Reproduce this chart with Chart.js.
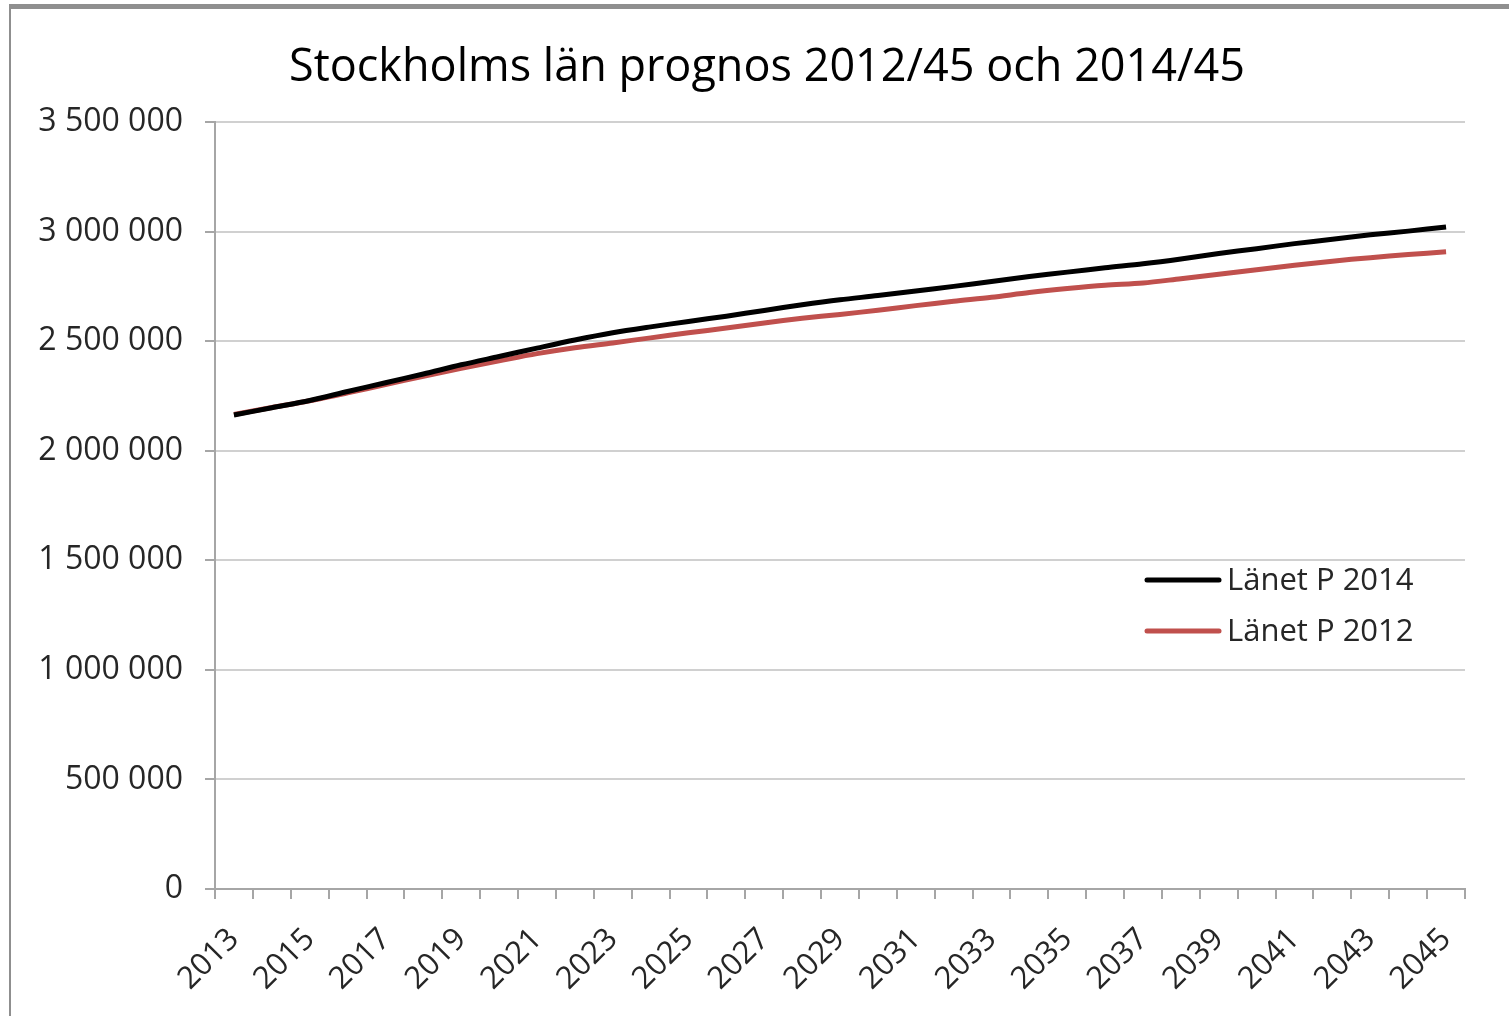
<!DOCTYPE html>
<html>
<head>
<meta charset="utf-8">
<script src="https://cdn.jsdelivr.net/npm/chart.js@4.4.0/dist/chart.umd.min.js"></script>
<style>
  html, body { margin: 0; padding: 0; background: #fff; }
  #wrap { position: relative; width: 1509px; height: 1016px; }
  #frame { position: absolute; left: 9px; top: 4px; right: 0; bottom: 0;
           border-top: 5px solid #8f8f8f; border-left: 2px solid #8f8f8f; pointer-events: none; }
</style>
</head>
<body>
<div id="wrap">
  <canvas id="lineChart" width="1509" height="1016"></canvas>
  <div id="frame"></div>
</div>
<script>
const years = [];
for (let y = 2013; y <= 2045; y++) years.push(String(y));

// Länet P 2014 (black)
const lanetP2014 = [
    2163000, 2196000, 2229000, 2270000, 2310000, 2350000, 2392000, 2430000, 2468000, 2505000,
    2538000, 2565000, 2590000, 2614000, 2640000, 2666000, 2689000, 2708000, 2729000, 2750000,
    2772000, 2795000, 2815000, 2835000, 2853000, 2875000, 2900000, 2922000, 2945000, 2965000,
    2985000, 3002000, 3021000
];
// Länet P 2012 (red)
const lanetP2012 = [
    2165000, 2197000, 2228000, 2264000, 2302000, 2340000, 2376000, 2410000, 2443000, 2470000,
    2492000, 2515000, 2538000, 2560000, 2583000, 2604000, 2622000, 2641000, 2662000, 2682000,
    2700000, 2722000, 2740000, 2755000, 2765000, 2785000, 2805000, 2826000, 2846000, 2865000,
    2881000, 2895000, 2908000
];

const FONT = '"Open Sans", "Liberation Sans", sans-serif';
const TEXT = '#262626';
const AXIS = '#a6a6a6';
const GRID = '#d0d0d0';

function fmt(v) {
    return String(v).replace(/\B(?=(\d{3})+(?!\d))/g, ' ');
}

// legend drawn inside the plot area, Excel style
const innerLegend = {
    id: 'innerLegend',
    afterDraw(chart) {
        const { ctx, chartArea } = chart;
        const x0 = chartArea.right - 318;
        const y0 = chartArea.top + 0.597 * (chartArea.bottom - chartArea.top);
        ctx.save();
        ctx.font = '31px ' + FONT;
        ctx.textBaseline = 'middle';
        chart.data.datasets.forEach((ds, i) => {
            const y = y0 + i * 51;
            ctx.strokeStyle = ds.borderColor;
            ctx.lineWidth = 5;
            ctx.lineCap = 'round';
            ctx.beginPath();
            ctx.moveTo(x0, y);
            ctx.lineTo(x0 + 72, y);
            ctx.stroke();
            ctx.fillStyle = TEXT;
            ctx.fillText(ds.label, x0 + 80, y + 1);
        });
        ctx.restore();
    }
};

const ctx = document.getElementById('lineChart').getContext('2d');
const myChart = new Chart(ctx, {
    type: 'line',
    data: {
        labels: years,
        datasets: [{
            label: 'Länet P 2014',
            data: lanetP2014,
            borderColor: '#000000',
            borderWidth: 5,
            pointRadius: 0,
            tension: 0.3
        }, {
            label: 'Länet P 2012',
            data: lanetP2012,
            borderColor: '#c0504d',
            borderWidth: 5,
            pointRadius: 0,
            tension: 0.3
        }]
    },
    options: {
        responsive: false,
        animation: false,
        layout: { padding: { left: 25, right: 0, top: 0, bottom: 0 } },
        plugins: {
            legend: { display: false },
            tooltip: { enabled: false },
            title: {
                display: true,
                text: 'Stockholms län prognos 2012/45 och 2014/45',
                color: '#000',
                font: { family: FONT, size: 45, weight: 'normal' },
                padding: { top: 41, bottom: 27 }
            }
        },
        scales: {
            x: {
                offset: true,
                grid: {
                    offset: true,
                    drawOnChartArea: false,
                    drawTicks: true,
                    tickLength: 10,
                    color: AXIS,
                    lineWidth: 2
                },
                border: { display: true, color: AXIS, width: 2 },
                ticks: {
                    autoSkip: false,
                    maxRotation: 45,
                    minRotation: 45,
                    color: TEXT,
                    font: { family: FONT, size: 31 },
                    padding: 22,
                    callback: function (val, idx) {
                        return idx % 2 === 0 ? this.getLabelForValue(val) : '';
                    }
                },
                afterFit: (scale) => { scale.height = 127; }
            },
            y: {
                min: 0,
                max: 3500000,
                grid: {
                    color: GRID,
                    lineWidth: 2,
                    tickLength: 10,
                    tickColor: AXIS
                },
                border: { display: true, color: AXIS, width: 2 },
                ticks: {
                    stepSize: 500000,
                    color: TEXT,
                    font: { family: FONT, size: 32 },
                    padding: 22,
                    callback: (v) => fmt(v)
                },
                afterFit: (scale) => { scale.width = 190; }
            },
            // empty spacer on the right so the plot ends where Excel's did
            spacer: {
                position: 'right',
                grid: { display: false },
                border: { display: false },
                ticks: { display: false },
                afterFit: (scale) => { scale.width = 44; }
            }
        }
    },
    plugins: [innerLegend]
});
</script>
</body>
</html>
